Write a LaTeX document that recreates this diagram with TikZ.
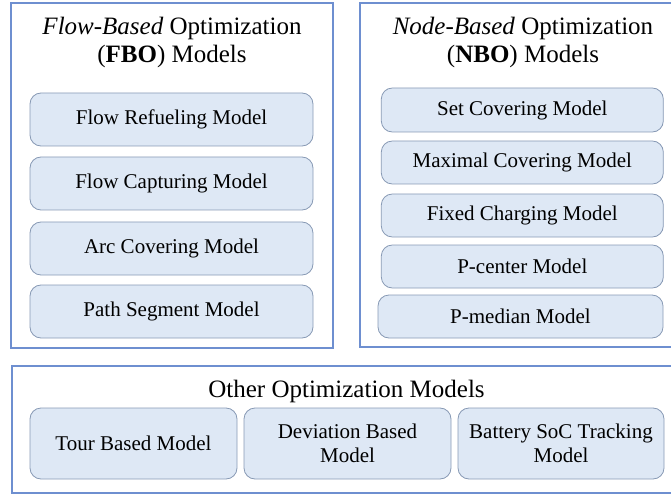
\documentclass[tikz,border=0pt]{standalone}
\usepackage{fontspec}
\setmainfont{Liberation Serif}
\definecolor{groupblue}{HTML}{6E8FD0}
\definecolor{modelfill}{HTML}{DEE8F5}
\definecolor{modeledge}{HTML}{8799B4}
\begin{document}
\begin{tikzpicture}[x=1pt,y=-1pt,
  group/.style={draw=groupblue, line width=1.6pt, inner sep=0pt},
  model/.style={draw=modeledge, fill=modelfill, rounded corners=11pt,
    line width=0.8pt, inner sep=0pt, align=center,
    font=\fontsize{21}{24}\selectfont},
  grouptitle/.style={anchor=base, inner sep=0pt, font=\fontsize{25}{28}\selectfont}]
\useasboundingbox (0,0) rectangle (671,494);

% group frames
\node[group, minimum width=322pt, minimum height=345pt] (fbo) at (171.8,175.5) {};
\node[group, minimum width=330pt, minimum height=344pt] (nbo) at (525,175) {};
\node[group, minimum width=680pt, minimum height=127pt] (other) at (351.7,429.5) {};

% group titles
\node[grouptitle] (fbot1) at (172,35) {\textit{Flow-Based} Optimization};
\node[grouptitle] (fbot2) at (172,63) {(\textbf{FBO}) Models};
\node[grouptitle] (nbot1) at (523,35) {\textit{Node-Based} Optimization};
\node[grouptitle] (nbot2) at (523,63) {(\textbf{NBO}) Models};
\node[grouptitle] (othert) at (346.5,397) {Other Optimization Models};

% flow-based models
\node[model, minimum width=283pt, minimum height=53pt] (frm) at (171.5,119.5) {Flow Refueling Model};
\node[model, minimum width=283pt, minimum height=53pt] (fcm) at (171.5,183.5) {Flow Capturing Model};
\node[model, minimum width=283pt, minimum height=53pt] (acm) at (171.5,248.5) {Arc Covering Model};
\node[model, minimum width=283pt, minimum height=53pt] (psm) at (171.5,311.5) {Path Segment Model};

% node-based models
\node[model, minimum width=282pt, minimum height=44pt] (scm) at (522.3,110) {Set Covering Model};
\node[model, minimum width=282pt, minimum height=43pt] (mcm) at (522.3,162.5) {Maximal Covering Model};
\node[model, minimum width=282pt, minimum height=43pt] (fchm) at (522.3,215.5) {Fixed Charging Model};
\node[model, minimum width=282pt, minimum height=43pt] (pcm) at (522.3,266.5) {P-center Model};
\node[model, minimum width=285pt, minimum height=43pt] (pmm) at (520.5,316.5) {P-median Model};

% other models
\node[model, minimum width=207pt, minimum height=71pt] (tbm) at (133.5,443.5) {Tour Based Model};
\node[model, minimum width=207pt, minimum height=71pt] (dbm) at (347.5,443.5) {Deviation Based\\Model};
\node[model, minimum width=206pt, minimum height=71pt] (bsm) at (561,443.5) {Battery SoC Tracking\\Model};
\end{tikzpicture}
\end{document}
